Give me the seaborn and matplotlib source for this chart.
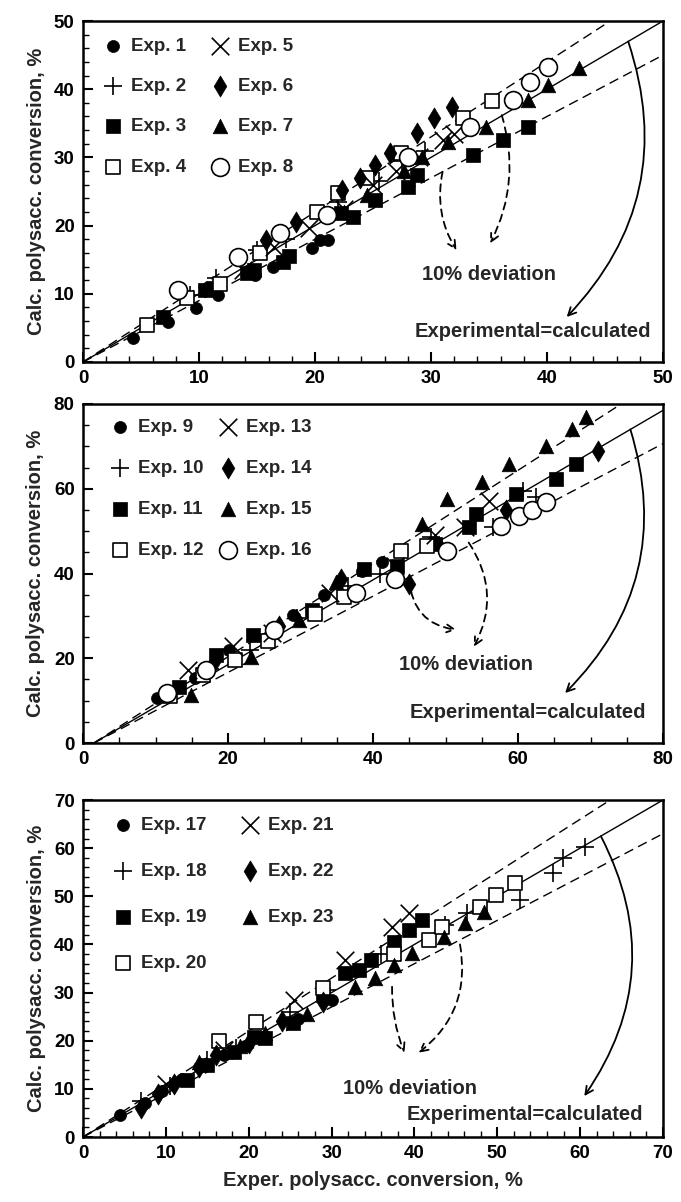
import numpy as np
import pandas as pd
import matplotlib
matplotlib.use("Agg")
import matplotlib.pyplot as plt
import seaborn as sns

# ---------------- data ----------------
# Panel 1 (Exp. 1-8)
exp1_x = [4.3, 7.3, 9.7, 11.6, 14.8, 16.4, 19.7, 20.4, 21.1]
exp1_y = [3.5, 5.9, 7.9, 9.8, 12.8, 13.9, 16.7, 17.9, 17.9]
exp2_x = [9.2, 11.5, 15.0, 17.5, 22.0, 25.5, 27.5, 29.5]
exp2_y = [9.8, 12.3, 16.4, 18.0, 23.5, 26.5, 29.5, 31.0]
exp3_x = [6.9, 10.5, 11.2, 14.1, 14.7, 17.2, 17.8, 22.2, 23.3, 25.2, 28.0, 28.8, 33.6, 36.2, 38.4]
exp3_y = [6.6, 10.6, 10.8, 13.1, 13.5, 14.6, 15.6, 21.8, 21.3, 23.8, 25.7, 27.4, 30.4, 32.6, 34.5]
exp4_x = [5.5, 9.0, 11.8, 15.3, 20.2, 22.0, 24.5, 27.4, 32.8, 35.3]
exp4_y = [5.4, 9.4, 11.5, 16.0, 22.0, 24.8, 27.0, 30.6, 35.8, 38.2]
exp5_x = [13.8, 16.5, 19.5, 22.5, 25.0, 27.0, 29.0, 31.0, 32.0]
exp5_y = [13.5, 16.8, 19.7, 22.5, 26.0, 28.0, 30.0, 32.5, 33.5]
exp6_x = [15.8, 18.4, 22.3, 23.9, 25.2, 26.5, 28.8, 30.3, 31.8]
exp6_y = [17.9, 20.5, 25.2, 27.0, 28.9, 30.6, 33.6, 35.8, 37.4]
exp7_x = [22.5, 24.5, 27.7, 29.2, 31.5, 34.7, 38.4, 40.1, 42.8]
exp7_y = [22.0, 24.5, 28.0, 30.1, 32.3, 34.5, 38.4, 40.6, 43.1]
exp8_x = [8.2, 13.4, 17.0, 21.0, 28.0, 33.4, 37.1, 38.5, 40.1]
exp8_y = [10.6, 15.4, 18.9, 21.5, 30.0, 34.5, 38.4, 41.1, 43.3]

# Panel 2 (Exp. 9-16)
exp9_x = [10.2, 15.4, 20.2, 28.9, 33.3, 38.5, 41.2]
exp9_y = [10.6, 15.4, 22.0, 30.3, 35.0, 40.5, 42.8]
exp10_x = [12.5, 17.5, 23.0, 29.5, 36.5, 41.0, 48.0, 56.5, 60.7, 62.5]
exp10_y = [12.0, 17.5, 22.0, 29.5, 37.0, 40.0, 48.5, 51.0, 59.5, 58.0]
exp11_x = [13.3, 18.4, 23.4, 31.6, 38.8, 43.3, 48.6, 53.2, 54.2, 59.7, 65.3, 68.0]
exp11_y = [13.3, 20.8, 25.6, 31.5, 41.0, 41.7, 46.9, 50.9, 54.0, 58.7, 62.2, 65.8]
exp12_x = [12.0, 16.5, 21.0, 25.5, 32.0, 36.0, 43.8, 47.5]
exp12_y = [11.0, 16.0, 19.5, 24.0, 30.5, 34.5, 45.2, 46.5]
exp13_x = [14.5, 20.7, 26.0, 34.0, 43.0, 48.6, 52.7, 56.0]
exp13_y = [17.3, 23.0, 26.0, 35.5, 41.8, 49.0, 51.0, 57.0]
exp14_x = [18.0, 27.0, 35.6, 45.0, 58.4, 71.0]
exp14_y = [19.0, 27.5, 38.6, 37.5, 55.0, 69.0]
exp15_x = [14.9, 23.2, 29.8, 34.9, 46.7, 50.2, 55.0, 58.7, 63.8, 67.4, 69.4]
exp15_y = [11.4, 20.4, 29.0, 37.9, 51.6, 57.5, 61.5, 65.8, 70.0, 74.0, 77.0]
exp16_x = [11.6, 17.0, 26.4, 37.6, 43.1, 50.2, 57.7, 60.1, 61.9, 63.9]
exp16_y = [11.7, 17.3, 26.7, 35.5, 38.6, 45.2, 51.1, 53.5, 55.1, 56.8]

# Panel 3 (Exp. 17-23)
exp17_x = [4.5, 7.5, 9.5, 12.0, 14.0, 17.0, 19.5, 22.0, 26.0, 30.0]
exp17_y = [4.5, 7.0, 9.5, 12.0, 14.5, 17.0, 19.0, 21.0, 24.5, 28.5]
exp18_x = [7.0, 10.5, 15.0, 18.5, 25.0, 29.5, 36.0, 43.7, 46.4, 52.8, 56.7, 57.9, 60.6]
exp18_y = [7.5, 10.5, 16.0, 18.5, 26.0, 30.5, 38.0, 44.0, 46.6, 49.3, 54.9, 58.0, 60.3]
exp19_x = [12.5, 15.0, 18.2, 20.6, 22.0, 25.4, 29.0, 31.6, 33.3, 34.8, 37.5, 39.3, 40.9]
exp19_y = [11.8, 15.0, 17.7, 20.8, 20.5, 23.7, 29.5, 34.1, 34.7, 36.8, 40.5, 43.0, 45.1]
exp20_x = [16.4, 20.9, 29.0, 37.5, 41.7, 43.3, 47.9, 49.8, 52.1]
exp20_y = [20.0, 23.9, 31.0, 38.0, 41.0, 43.7, 47.8, 50.3, 52.8]
exp21_x = [10.0, 17.0, 25.5, 31.6, 37.3, 39.3]
exp21_y = [11.0, 18.0, 28.5, 36.8, 43.7, 46.6]
exp22_x = [7.0, 9.0, 11.0, 14.0, 16.0, 20.0, 24.0, 29.0]
exp22_y = [6.0, 9.0, 11.0, 14.5, 17.0, 19.5, 24.0, 28.0]
exp23_x = [14.0, 19.0, 22.0, 27.0, 32.8, 35.2, 37.5, 39.7, 43.6, 46.1, 48.4]
exp23_y = [15.5, 19.0, 21.5, 25.5, 31.2, 33.0, 35.8, 38.2, 41.6, 44.5, 46.8]

panel_limits = [50, 80, 70]
panel_major = [10, 20, 10]
panel_minor = [2, 5, 2]
xlabel_text = "Exper. polysacc. conversion, %"
ylabel_text = "Calc. polysacc. conversion, %"
dev_text = "10% deviation"
eq_text = "Experimental=calculated"

# ---------------- style ----------------
sns.set_theme(style="white")
plt.rcParams["font.family"] = ["Liberation Sans", "DejaVu Sans"]
plt.rcParams["font.weight"] = "bold"
plt.rcParams["axes.labelweight"] = "bold"

STY = {
    "circle": dict(marker="o", s=75, facecolor="black", edgecolor="black", linewidth=0.5),
    "plus": dict(marker="+", s=170, color="black", linewidth=1.2),
    "square": dict(marker="s", s=100, facecolor="black", edgecolor="black", linewidth=0.5),
    "osquare": dict(marker="s", s=115, facecolor="white", edgecolor="black", linewidth=1.2),
    "cross": dict(marker="x", s=160, color="black", linewidth=1.2),
    "diamond": dict(marker="d", s=115, facecolor="black", edgecolor="black", linewidth=0.5),
    "triangle": dict(marker="^", s=110, facecolor="black", edgecolor="black", linewidth=0.5),
    "ocircle": dict(marker="o", s=165, facecolor="white", edgecolor="black", linewidth=1.2),
}
order = ["circle", "plus", "square", "osquare", "cross", "diamond", "triangle", "ocircle"]

panels = [
    [("Exp. 1", exp1_x, exp1_y), ("Exp. 2", exp2_x, exp2_y), ("Exp. 3", exp3_x, exp3_y),
     ("Exp. 4", exp4_x, exp4_y), ("Exp. 5", exp5_x, exp5_y), ("Exp. 6", exp6_x, exp6_y),
     ("Exp. 7", exp7_x, exp7_y), ("Exp. 8", exp8_x, exp8_y)],
    [("Exp. 9", exp9_x, exp9_y), ("Exp. 10", exp10_x, exp10_y), ("Exp. 11", exp11_x, exp11_y),
     ("Exp. 12", exp12_x, exp12_y), ("Exp. 13", exp13_x, exp13_y), ("Exp. 14", exp14_x, exp14_y),
     ("Exp. 15", exp15_x, exp15_y), ("Exp. 16", exp16_x, exp16_y)],
    [("Exp. 17", exp17_x, exp17_y), ("Exp. 18", exp18_x, exp18_y), ("Exp. 19", exp19_x, exp19_y),
     ("Exp. 20", exp20_x, exp20_y), ("Exp. 21", exp21_x, exp21_y), ("Exp. 22", exp22_x, exp22_y),
     ("Exp. 23", exp23_x, exp23_y)],
]
panel_styles = [order, order, ["circle", "plus", "square", "osquare", "cross", "diamond", "triangle"]]

line_x0 = [0.0, 1.5, 0.0]

# legend layout per panel: (anchor x, anchor y, labelspacing, columnspacing)
legend_layout = [(0.005, 0.99, 1.24, 1.05), (0.017, 0.995, 1.28, 0.55), (0.022, 0.99, 1.54, 1.6)]

annot = [
    dict(dev=(35.0, 12.8), eq=(38.8, 4.4),
         dashed=[((31.0, 27.9), (32.2, 16.4), 0.2), ((36.1, 36.2), (35.1, 17.4), -0.2)],
         solid=((47.0, 47.0), (41.7, 6.6), -0.3)),
    dict(dev=(52.8, 18.5), eq=(61.4, 7.3),
         dashed=[((45.0, 38.6), (51.5, 26.7), 0.4), ((53.2, 47.3), (53.9, 22.7), -0.3)],
         solid=((75.5, 74.0), (66.5, 11.8), -0.3)),
    dict(dev=(39.5, 10.0), eq=(53.3, 4.6),
         dashed=[((37.3, 31.2), (38.8, 17.5), 0.1), ((45.5, 40.0), (40.5, 17.5), -0.3)],
         solid=((62.5, 62.5), (60.5, 8.5), -0.3)),
]

W, H = 681, 1202
fig = plt.figure(figsize=(W / 100, H / 100), dpi=100)
fig.patch.set_facecolor("white")
axes_px = [(21, 362), (404, 743), (800, 1137)]
left_px, right_px = 83, 663

for i, (top, bot) in enumerate(axes_px):
    ax = fig.add_axes([left_px / W, 1 - bot / H, (right_px - left_px) / W, (bot - top) / H])
    lim = panel_limits[i]
    xs = np.array([line_x0[i], lim])
    for k, ls in [(1.0, "-"), (1.1, (0, (7, 4))), (0.9, (0, (7, 4)))]:
        sns.lineplot(x=xs, y=k * (xs - line_x0[i]), ax=ax, color="black",
                     linewidth=1.0, linestyle=ls, zorder=1)
    for (label, xv, yv), st in zip(panels[i], panel_styles[i]):
        kw = dict(STY[st])
        sns.scatterplot(x=xv, y=yv, ax=ax, label=label, zorder=3, legend=False, **kw)
    ax.set_xlim(0, lim)
    ax.set_ylim(0, lim)
    ax.set_xticks(np.arange(0, lim + 1, panel_major[i]))
    ax.set_yticks(np.arange(0, lim + 1, panel_major[i]))
    ax.set_xticks(np.arange(0, lim + 0.1, panel_minor[i]), minor=True)
    ax.set_yticks(np.arange(0, lim + 0.1, panel_minor[i]), minor=True)
    ax.tick_params(which="both", direction="in", top=False, right=False,
                   bottom=True, left=True, colors="black")
    ax.tick_params(which="major", length=7, width=1.5, labelsize=13.5, pad=6)
    ax.tick_params(which="minor", length=4, width=1.0)
    for lab in ax.get_xticklabels() + ax.get_yticklabels():
        lab.set_fontweight("bold")
    for sp in ax.spines.values():
        sp.set_visible(True)
        sp.set_color("black")
        sp.set_linewidth(1.8)
    ax.set_ylabel(ylabel_text, fontsize=14.5, fontweight="bold", labelpad=6)
    ax.set_xlabel("")
    if i == 2:
        ax.set_xlabel(xlabel_text, fontsize=14.5, fontweight="bold", labelpad=6)
    handles, labels = ax.get_legend_handles_labels()
    bx, by, lsp, csp = legend_layout[i]
    leg = ax.legend(handles, labels, ncol=2, loc="upper left", frameon=False,
                    fontsize=13.5, labelspacing=lsp, handletextpad=0.2,
                    columnspacing=csp, borderaxespad=0.3, handlelength=1.5,
                    bbox_to_anchor=(bx, by))
    for t in leg.get_texts():
        t.set_fontweight("bold")
    a = annot[i]
    ax.text(a["dev"][0], a["dev"][1], dev_text, fontsize=14.5, fontweight="bold",
            ha="center", va="center", zorder=5)
    ax.text(a["eq"][0], a["eq"][1], eq_text, fontsize=14.5, fontweight="bold",
            ha="center", va="center", zorder=5)
    for (start, end, rad) in a["dashed"]:
        ax.annotate("", xy=end, xytext=start,
                    arrowprops=dict(arrowstyle="->", color="black", linestyle=(0, (4, 3)),
                                    linewidth=1.3, shrinkA=0, shrinkB=0,
                                    connectionstyle=f"arc3,rad={rad}", mutation_scale=14))
    s_start, s_end, s_rad = a["solid"]
    ax.annotate("", xy=s_end, xytext=s_start,
                arrowprops=dict(arrowstyle="->", color="black", linewidth=1.3,
                                shrinkA=0, shrinkB=0,
                                connectionstyle=f"arc3,rad={s_rad}", mutation_scale=14))

fig.savefig("out.png", dpi=100, facecolor="white")
